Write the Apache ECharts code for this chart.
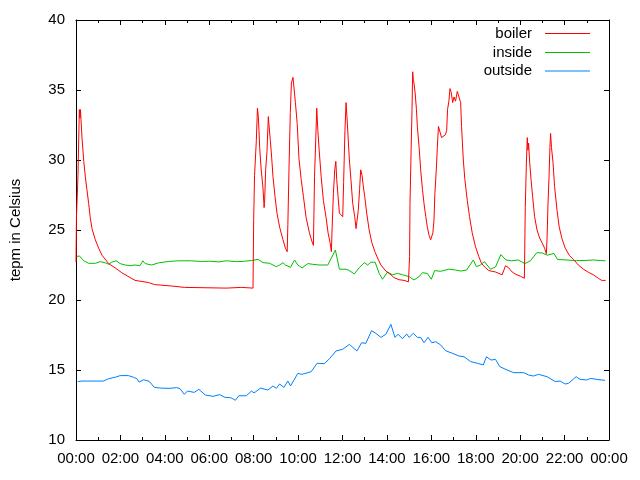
<!DOCTYPE html>
<html>
<head>
<meta charset="utf-8">
<script src="https://cdn.jsdelivr.net/npm/echarts@6/dist/echarts.min.js"></script>
<style>
  html, body { margin: 0; padding: 0; background: #fff; }
  #chart { width: 640px; height: 480px; }
</style>
</head>
<body>
<div id="chart"></div>
<script>
// hours of the day (decimal) and temperatures
const boilerTime = [0.00, 0.02, 0.09, 0.15, 0.18, 0.20, 0.27, 0.35, 0.42, 0.49, 0.57, 0.64, 0.72, 0.87, 1.02, 1.17, 1.47, 1.76, 2.06, 2.66, 3.26, 3.54, 4.31, 4.89, 6.77, 7.45, 7.97,
  8.00, 8.04, 8.12, 8.17, 8.21, 8.24, 8.27, 8.34, 8.42, 8.47, 8.49, 8.54, 8.60, 8.66, 8.69, 8.75, 8.81, 8.87, 8.96, 9.05, 9.17, 9.32, 9.43, 9.51,
  9.54, 9.59, 9.65, 9.70, 9.77, 9.84, 9.88, 9.96, 10.04, 10.14, 10.24, 10.36, 10.51, 10.62, 10.69,
  10.74, 10.80, 10.84, 10.89, 10.95, 11.04, 11.14, 11.26, 11.35, 11.44, 11.50,
  11.53, 11.59, 11.65, 11.70, 11.74, 11.80, 11.86, 11.93, 12.01,
  12.05, 12.11, 12.16, 12.20, 12.25, 12.31, 12.38, 12.46, 12.55, 12.61, 12.68,
  12.71, 12.77, 12.82, 12.88, 12.93, 13.00, 13.09, 13.20, 13.32, 13.47, 13.58, 13.73, 13.95, 14.18, 14.32, 14.55, 14.77, 14.97,
  15.02, 15.04, 15.09, 15.13, 15.16, 15.19, 15.22, 15.27, 15.33, 15.37, 15.45, 15.52, 15.60, 15.67, 15.75, 15.82, 15.90, 15.97, 16.03,
  16.07, 16.12, 16.16, 16.23, 16.27, 16.32, 16.36, 16.41, 16.46, 16.54, 16.63, 16.69, 16.73, 16.79, 16.84, 16.90, 16.96, 17.02, 17.09, 17.17, 17.24, 17.32,
  17.36, 17.44, 17.51, 17.62, 17.72, 17.84, 17.99, 18.14, 18.26, 18.44, 18.59, 18.89, 19.19,
  19.34, 19.48, 19.64, 19.78, 20.01, 20.19,
  20.23, 20.28, 20.32, 20.35, 20.38, 20.43, 20.49, 20.56, 20.65, 20.76, 20.86, 20.98, 21.10, 21.18,
  21.21, 21.25, 21.30, 21.34, 21.37, 21.41, 21.48, 21.55, 21.66, 21.76, 21.88, 22.03, 22.21, 22.40, 22.62, 22.85, 23.07, 23.30, 23.52, 23.67, 23.85];
const boilerTemp = [22.7, 25.9, 28.9, 33.6, 33.0, 33.6, 31.6, 29.9, 28.8, 27.9, 26.9, 25.9, 25.1, 24.3, 23.7, 23.2, 22.6, 22.3, 21.95, 21.4, 21.25, 21.1, 21.0, 20.9, 20.85, 20.9, 20.85,
  25.7, 28.9, 31.4, 33.7, 33.1, 32.1, 30.9, 29.3, 28.0, 26.6, 26.9, 29.3, 30.6, 33.1, 32.5, 31.4, 30.2, 28.8, 27.4, 26.2, 25.2, 24.3, 23.7, 23.45,
  25.4, 29.3, 33.4, 35.5, 35.9, 35.9, 34.1, 32.6, 30.1, 28.6, 27.4, 25.9, 24.8, 24.2, 23.9,
  28.8, 31.7, 33.7, 32.1, 30.7, 28.8, 27.1, 25.9, 24.8, 24.1, 23.45,
  25.0, 27.6, 29.3, 29.9, 28.6, 27.4, 26.2, 26.1, 25.95,
  28.4, 32.1, 34.1, 33.1, 31.7, 30.0, 28.6, 26.9, 25.95, 25.1, 25.0,
  26.4, 27.9, 29.3, 28.9, 28.2, 27.4, 26.2, 25.0, 24.1, 23.4, 23.0, 22.5, 22.07, 21.8, 21.6, 21.45, 21.4, 21.3,
  23.1, 26.9, 30.7, 33.6, 36.3, 35.7, 35.5, 34.8, 33.6, 32.4, 30.9, 29.3, 27.9, 26.9, 25.95, 25.2, 24.6, 24.3, 24.2,
  24.8, 25.7, 27.6, 29.5, 30.9, 32.4, 32.5, 32.3, 31.6, 31.7, 31.8, 32.1, 33.6, 34.2, 35.1, 34.8, 34.1, 34.5, 34.2, 34.9, 34.8, 34.1,
  32.4, 30.0, 28.6, 27.1, 25.95, 24.8, 23.8, 23.1, 22.6, 22.3, 22.1, 22.0, 21.8,
  22.45, 22.3, 22.0, 21.85, 21.7, 21.55,
  26.6, 29.8, 31.6, 30.7, 31.2, 29.8, 28.6, 27.4, 25.95, 25.0, 24.5, 24.1, 23.7, 23.3,
  24.4, 26.7, 28.8, 30.9, 31.9, 30.9, 29.8, 28.1, 26.4, 25.2, 24.4, 23.7, 23.2, 22.9, 22.5, 22.2, 21.98, 21.8, 21.55, 21.4, 21.4];

const insideTime = [0.03, 0.15, 0.35, 0.57, 0.87, 1.09, 1.31, 1.47, 1.61, 1.81, 1.99, 2.21, 2.44, 2.66, 2.88, 3.01, 3.11, 3.41, 3.71, 4.16, 4.61, 5.20, 5.65, 6.01, 6.42, 6.77, 7.22, 7.54, 7.89,
  8.20, 8.42, 8.72, 9.02, 9.17, 9.32, 9.43, 9.66, 9.84, 9.99, 10.18, 10.44, 10.66, 10.95, 11.34, 11.68, 11.86, 12.16, 12.31, 12.53, 12.75, 12.98, 13.13, 13.28, 13.47,
  13.65, 13.80, 14.03, 14.25, 14.48, 14.70, 15.00, 15.22, 15.45, 15.60, 15.82, 16.00, 16.15, 16.42, 16.79, 17.09, 17.32, 17.59, 17.89, 18.03, 18.21, 18.39, 18.66, 18.89,
  19.13, 19.36, 19.60, 19.91, 20.21, 20.46, 20.75, 20.99, 21.22, 21.52, 21.68, 22.07, 22.53, 23.00, 23.30, 23.60, 23.84];
const insideTemp = [23.1, 23.15, 22.8, 22.62, 22.62, 22.74, 22.66, 22.55, 22.7, 22.8, 22.6, 22.5, 22.45, 22.5, 22.45, 22.8, 22.6, 22.5, 22.65, 22.75, 22.8, 22.8, 22.75, 22.77, 22.72, 22.8, 22.74, 22.76, 22.82,
  22.9, 22.67, 22.62, 22.38, 22.5, 22.67, 22.5, 22.33, 22.86, 22.5, 22.29, 22.6, 22.55, 22.5, 22.5, 23.57, 22.2, 22.2, 22.1, 21.86, 22.3, 22.67, 22.5, 22.7, 22.7,
  21.9, 21.48, 22.0, 21.8, 21.9, 21.8, 21.67, 21.43, 21.67, 21.95, 21.9, 21.48, 22.1, 22.05, 22.2, 22.14, 22.07, 22.14, 22.86, 22.38, 22.5, 22.74, 22.2, 22.36,
  23.24, 22.86, 22.8, 22.86, 22.6, 22.8, 23.38, 23.36, 23.2, 23.33, 22.9, 22.86, 22.81, 22.83, 22.86, 22.82, 22.8];

const outsideTime = [0.08, 0.27, 1.24, 1.47, 1.76, 1.99, 2.36, 2.59, 2.74, 2.84, 3.04, 3.29, 3.53, 3.86, 4.23, 4.53, 4.68, 4.88, 5.02, 5.32, 5.53, 5.83, 6.18, 6.47, 6.70, 6.97, 7.18, 7.33, 7.67, 7.90,
  8.02, 8.31, 8.64, 8.87, 9.02, 9.17, 9.36, 9.54, 9.66, 9.99, 10.17, 10.44, 10.59, 10.86, 11.18, 11.41, 11.71, 12.01, 12.31, 12.65, 12.86, 13.05, 13.31, 13.50, 13.73, 13.95,
  14.18, 14.36, 14.50, 14.70, 14.89, 15.00, 15.19, 15.37, 15.52, 15.67, 15.85, 16.02, 16.20, 16.42, 16.64, 16.94, 17.24, 17.47, 17.77, 18.07, 18.34, 18.48, 18.69, 18.89,
  19.08, 19.41, 19.71, 20.16, 20.38, 20.60, 20.83, 21.21, 21.58, 21.80, 22.03, 22.18, 22.52, 22.70, 23.00, 23.18, 23.45, 23.82];
const outsideTemp = [14.17, 14.21, 14.21, 14.38, 14.48, 14.6, 14.6, 14.48, 14.38, 14.14, 14.3, 14.2, 13.76, 13.7, 13.69, 13.74, 13.67, 13.26, 13.5, 13.4, 13.62, 13.21, 13.12, 13.24, 13.05, 13.02, 12.84, 13.16, 13.16, 13.5,
  13.36, 13.71, 13.57, 13.86, 13.69, 14.0, 13.76, 14.21, 13.86, 14.76, 14.69, 14.81, 14.88, 15.48, 15.45, 15.8, 16.36, 16.48, 16.83, 16.36, 16.95, 16.9, 17.81, 17.62, 17.33, 17.55,
  18.26, 17.33, 17.55, 17.24, 17.57, 17.33, 17.62, 17.33, 17.33, 16.95, 17.33, 16.95, 17.02, 16.79, 16.38, 16.2, 16.0, 15.95, 15.6, 15.48, 15.36, 15.95, 15.71, 15.76,
  15.24, 15.0, 14.81, 14.81, 14.64, 14.57, 14.69, 14.52, 14.17, 14.21, 14.0, 14.05, 14.52, 14.33, 14.29, 14.4, 14.33, 14.26];

const seriesNames = ['boiler', 'inside', 'outside'];
const seriesColors = ['#ff0000', '#00c000', '#0080ff'];
const timeTicks = { min: 0, max: 24, step: 2 };
const tempTicks = { min: 10, max: 40, step: 5 };

const zip = (xs, ys) => xs.map((x, i) => [x, ys[i]]);
const font = '"Liberation Sans", Arial, sans-serif';

const hourLabel = v => {
  const h = Math.round(v) % 24;
  return (h < 10 ? '0' : '') + h + ':00';
};

const chart = echarts.init(document.getElementById('chart'), null, { renderer: 'canvas' });

const baseX = {
  type: 'value',
  min: timeTicks.min,
  max: timeTicks.max,
  interval: timeTicks.step,
  axisLine: { show: true, onZero: false, lineStyle: { color: '#000', width: 1 } },
  axisTick: { show: true, inside: true, length: 5, lineStyle: { color: '#000' } },
  minorTick: { show: true, splitNumber: 2, length: 3, lineStyle: { color: '#000' } },
  splitLine: { show: false }
};
const baseY = {
  type: 'value',
  min: tempTicks.min,
  max: tempTicks.max,
  interval: tempTicks.step,
  axisLine: { show: true, onZero: false, lineStyle: { color: '#000', width: 1 } },
  axisTick: { show: true, inside: true, length: 5, lineStyle: { color: '#000' } },
  splitLine: { show: false }
};

// one legend per row so every label stays right-aligned against its line sample
const legendTops = [19, 38, 56.5];
const legends = seriesNames.map((name, i) => ({
  data: [name],
  orient: 'horizontal',
  right: 45,
  top: legendTops[i],
  align: 'right',
  itemWidth: 45,
  itemHeight: 1,
  icon: 'rect',
  textStyle: { color: '#000', fontSize: 15, fontFamily: font, lineHeight: 19, padding: [0, 8, 0, 0] }
}));

chart.setOption({
  animation: false,
  backgroundColor: '#fff',
  textStyle: { fontFamily: font },
  grid: { left: 74, right: 31, top: 20, bottom: 40, containLabel: false },
  legend: legends,
  xAxis: [
    Object.assign({}, baseX, {
      position: 'bottom',
      axisLabel: { color: '#000', fontSize: 15, fontFamily: font, margin: 11, formatter: hourLabel }
    }),
    Object.assign({}, baseX, { position: 'top', axisLabel: { show: false } })
  ],
  yAxis: [
    Object.assign({}, baseY, {
      position: 'left',
      name: 'tepm in Celsius',
      nameLocation: 'middle',
      nameGap: 53,
      nameTextStyle: { color: '#000', fontSize: 15, fontFamily: font },
      axisLabel: { color: '#000', fontSize: 15, fontFamily: font, margin: 11 }
    }),
    Object.assign({}, baseY, { position: 'right', axisLabel: { show: false } })
  ],
  series: [
    { name: seriesNames[0], type: 'line', data: zip(boilerTime, boilerTemp) },
    { name: seriesNames[1], type: 'line', data: zip(insideTime, insideTemp) },
    { name: seriesNames[2], type: 'line', data: zip(outsideTime, outsideTemp) }
  ].map((s, i) => Object.assign(s, {
    showSymbol: false,
    symbol: 'none',
    color: seriesColors[i],
    lineStyle: { width: 1, color: seriesColors[i] },
    z: 3 - i
  }))
});
</script>
</body>
</html>
